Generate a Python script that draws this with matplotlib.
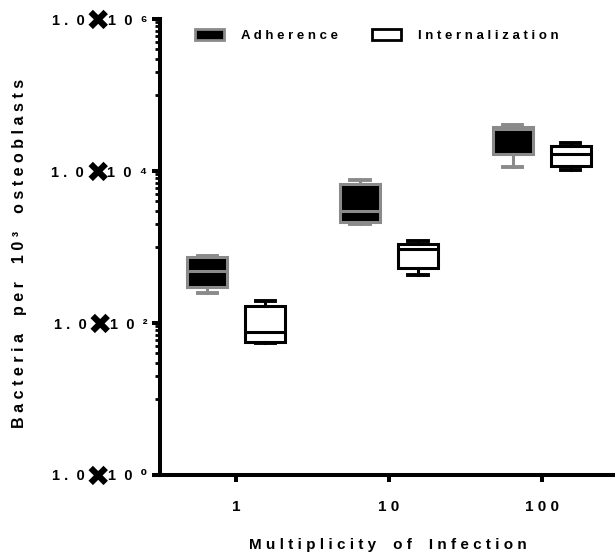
import matplotlib
matplotlib.use("Agg")
import matplotlib.pyplot as plt
from matplotlib.patches import Patch
from matplotlib.ticker import FixedLocator, NullFormatter
from matplotlib.transforms import IdentityTransform

# bacteria counts per 10^3 osteoblasts, box summary per MOI
moi_labels = ["1", "10", "100"]

adh_whislo = [250, 2000, 11300]
adh_q1 = [300, 2130, 16700]
adh_med = [480, 2970, 36000]
adh_q3 = [740, 6700, 38000]
adh_whishi = [760, 7600, 40500]

int_whislo = [55, 430, 10300]
int_q1 = [56, 530, 11600]
int_med = [76, 940, 16700]
int_q3 = [167, 1110, 21300]
int_whishi = [195, 1200, 23300]

y_exponents = [0, 2, 4, 6]

GREY = "#8a8a8a"
FONT = ["Liberation Sans", "DejaVu Sans"]


def spaced(s):
    return " ".join(s)


def make_stats(lo, q1, med, q3, hi):
    return [dict(whislo=a, q1=b, med=c, q3=d, whishi=e, fliers=[])
            for a, b, c, d, e in zip(lo, q1, med, q3, hi)]


fig = plt.figure(figsize=(6.15, 5.54), dpi=100)
ax = fig.add_axes([0.260, 0.1426, 0.740, 0.8231])

pos = range(len(moi_labels))
lw = 2.2

ax.bxp(make_stats(adh_whislo, adh_q1, adh_med, adh_q3, adh_whishi),
       positions=[p - 0.19 for p in pos], widths=0.26, capwidths=0.125,
       patch_artist=True, showfliers=False,
       boxprops=dict(facecolor="black", edgecolor=GREY, linewidth=lw),
       whiskerprops=dict(color=GREY, linewidth=lw),
       capprops=dict(color=GREY, linewidth=lw + 0.6),
       medianprops=dict(color=GREY, linewidth=lw))

ax.bxp(make_stats(int_whislo, int_q1, int_med, int_q3, int_whishi),
       positions=[p + 0.19 for p in pos], widths=0.26, capwidths=0.125,
       patch_artist=True, showfliers=False,
       boxprops=dict(facecolor="white", edgecolor="black", linewidth=lw),
       whiskerprops=dict(color="black", linewidth=lw),
       capprops=dict(color="black", linewidth=lw + 0.6),
       medianprops=dict(color="black", linewidth=lw))

ax.set_yscale("log")
ax.set_ylim(1, 1e6)
ax.set_xlim(-0.5, 2.48)

# y axis: majors every two decades, linear minors within each span
ax.yaxis.set_major_locator(FixedLocator([10.0 ** e for e in y_exponents]))
minors = [k * 10 ** (e + 1) for e in (0, 2, 4) for k in range(1, 10)]
ax.yaxis.set_minor_locator(FixedLocator(minors))
ax.yaxis.set_minor_formatter(NullFormatter())
sup = {0: "\u2070", 2: "\u00b2", 4: "\u2074", 6: "\u2076"}
# tick label holds "10^e"; mantissa and the heavy x are added after layout
ax.set_yticklabels(["1  0  " + sup[e] for e in y_exponents],
                   family=FONT, fontweight="bold", fontsize=10.5)

ax.set_xticks(list(pos))
ax.set_xticklabels([spaced(s) for s in moi_labels], family=FONT,
                   fontweight="bold", fontsize=11)

for side in ("top", "right"):
    ax.spines[side].set_visible(False)
for side in ("left", "bottom"):
    ax.spines[side].set_linewidth(2.9)

ax.tick_params(axis="y", which="major", direction="out", length=6, width=2.9, pad=3)
ax.tick_params(axis="y", which="minor", direction="out", length=3.5, width=2.0)
ax.tick_params(axis="x", which="major", direction="out", length=5, width=2.9, pad=13)
ax.tick_params(axis="x", which="minor", length=0)

ax.set_xlabel(spaced("Multiplicity of Infection").replace("   ", "    "),
              family=FONT, fontweight="bold", fontsize=11, labelpad=17)
ax.set_ylabel(spaced("Bacteria per 10\u00b3 osteoblasts").replace("   ", "    "),
              family=FONT, fontweight="bold", fontsize=11.5)
ax.yaxis.set_label_coords(-0.292, 0.485)

handles = [Patch(facecolor="black", edgecolor=GREY, linewidth=2),
           Patch(facecolor="white", edgecolor="black", linewidth=2)]
ax.legend(handles, [spaced("Adherence"), spaced("Internalization")],
          ncol=2, frameon=False, loc="upper left",
          bbox_to_anchor=(0.05, 1.005), handlelength=2.2, handleheight=1.0,
          columnspacing=2.6, handletextpad=1.3,
          prop=dict(family=FONT, weight="bold", size=9.5))

# prepend "1.0" and a big heavy multiplication sign to each y tick label
fig.canvas.draw()
renderer = fig.canvas.get_renderer()
for e, lab in zip(y_exponents, ax.get_yticklabels()):
    bb = lab.get_window_extent(renderer)
    yt = ax.transData.transform((0, 10.0 ** e))[1]
    cross = fig.text(bb.x0 + 2, yt, "\u2716", transform=IdentityTransform(),
                     ha="right", va="center_baseline", family="DejaVu Sans",
                     fontweight="bold", fontsize=21)
    cb = cross.get_window_extent(renderer)
    fig.text(cb.x0 - 1, bb.y0, "1 .  0", transform=IdentityTransform(),
             ha="right", va="bottom", family=FONT, fontweight="bold",
             fontsize=10.5)

fig.savefig("out.png", dpi=100)
